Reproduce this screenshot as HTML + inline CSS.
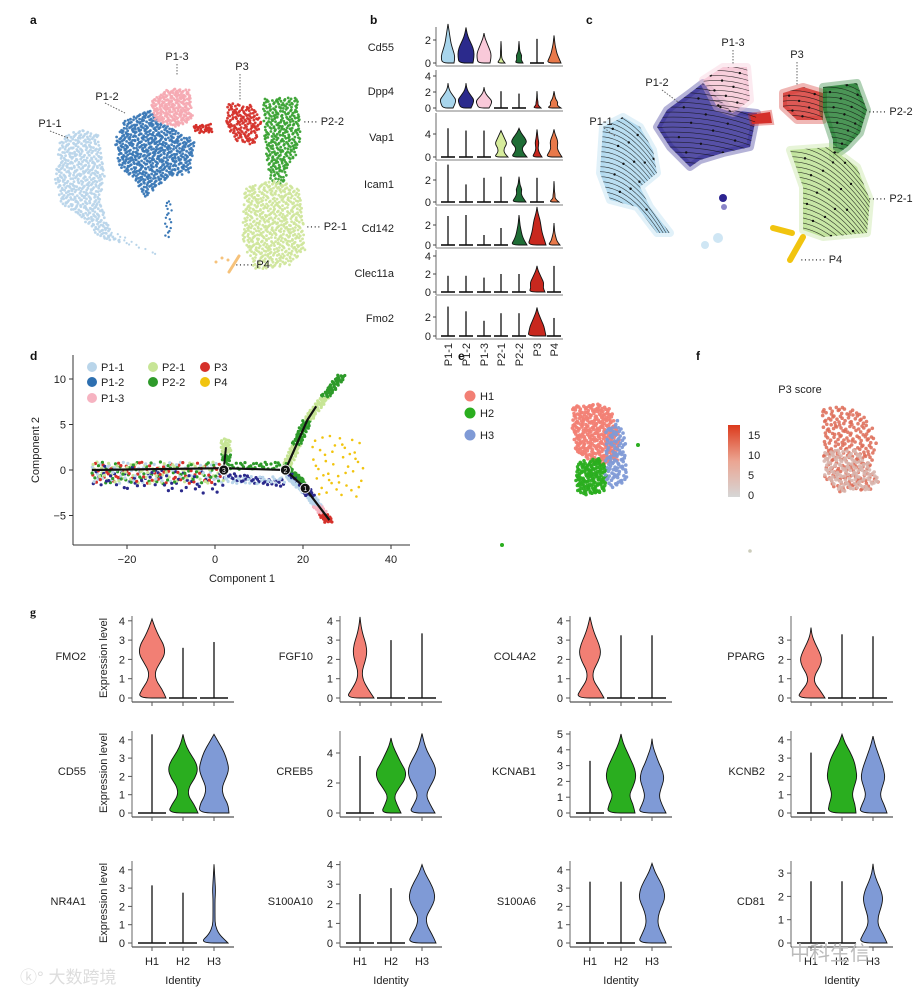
<!DOCTYPE html>
<html><head><meta charset="utf-8"><style>
body{margin:0;background:#fff;}
svg{display:block;font-family:"Liberation Sans",Arial,sans-serif;}
</style></head><body>
<svg id="fig" width="920" height="995" viewBox="0 0 920 995" xmlns="http://www.w3.org/2000/svg">
<g id="labels" font-weight="bold" font-size="12" fill="#111">
<text x="30" y="24">a</text>
<text x="370" y="24">b</text>
<text x="586" y="24">c</text>
<text x="30" y="360">d</text>
<text x="458" y="360">e</text>
<text x="696" y="360">f</text>
<text x="30" y="616" font-family="Liberation Serif,serif">g</text>
</g>
<g id="pa"></g>
<g id="pb"></g>
<g id="pc"></g>
<g id="pd"></g>
<g id="pe"></g>
<g id="pf"></g>
<g id="pg"></g>
<text x="20" y="983" font-size="17" fill="#ddd" font-family="Liberation Sans,Noto Sans CJK SC,sans-serif">ⓚ° 大数跨境</text>
<text x="790" y="960" font-size="20" fill="#bbb" font-family="Liberation Sans,Noto Sans CJK SC,sans-serif">中科生信</text>
</svg>
<script>
const NS="http://www.w3.org/2000/svg";
function el(p,tag,attrs,txt){const e=document.createElementNS(NS,tag);for(const k in attrs)e.setAttribute(k,attrs[k]);if(txt!==undefined)e.textContent=txt;p.appendChild(e);return e;}
function halton(i,b){let f=1,r=0;while(i>0){f/=b;r+=f*(i%b);i=Math.floor(i/b);}return r;}
function inPoly(x,y,P){let c=false;for(let i=0,j=P.length-1;i<P.length;j=i++){const a=P[i],b=P[j];if(((a[1]>y)!=(b[1]>y))&&(x<(b[0]-a[0])*(y-a[1])/(b[1]-a[1])+a[0]))c=!c;}return c;}
function fillPoly(g,P,n,r,col,op){let xs=P.map(p=>p[0]),ys=P.map(p=>p[1]);let x0=Math.min(...xs),x1=Math.max(...xs),y0=Math.min(...ys),y1=Math.max(...ys);let k=0;for(let i=1;k<n&&i<n*4;i++){const x=x0+(x1-x0)*halton(i,2),y=y0+(y1-y0)*halton(i,3);if(inPoly(x,y,P)){k++;const c=el(g,'circle',{cx:x.toFixed(1),cy:y.toFixed(1),r:r,fill:col,'fill-opacity':op});

}}}

/* ---------- Panel a ---------- */
const aClusters=["P1-1","P1-2","P1-3","P3","P2-2","P2-1"];
const aColors=["#b9d5ea","#3a78b6","#f6a9b2","#d5302a","#3aa233","#d0e69c"];
const aPolys=[
[[60,140],[80,128],[98,135],[105,175],[100,200],[110,228],[122,245],[95,235],[80,215],[62,205],[55,180]],
[[125,120],[150,110],[170,128],[195,140],[190,172],[165,180],[145,198],[135,180],[118,165],[115,140]],
[[150,100],[170,88],[190,90],[193,120],[175,128],[155,120]],
[[228,103],[250,105],[262,118],[255,145],[238,142],[225,125]],
[[263,99],[298,97],[301,145],[291,165],[282,188],[270,180],[265,150]],
[[245,186],[280,180],[300,190],[306,250],[290,265],[255,270],[242,240]]];
const aCounts=[520,650,260,160,330,580];
(function(){const g=document.getElementById('pa');
aPolys.forEach((P,i)=>fillPoly(g,P,aCounts[i],1.4,aColors[i],0.95));
fillPoly(g,[[192,125],[212,124],[214,132],[194,133]],30,1.4,"#d5302a",1);
fillPoly(g,[[165,200],[172,200],[172,240],[165,240]],18,1.2,"#3a78b6",1);
fillPoly(g,[[110,230],[160,255],[158,258],[108,236]],20,1.1,"#b9d5ea",1);
el(g,'line',{x1:239,y1:256,x2:229,y2:272,stroke:"#f6c27a","stroke-width":3,"stroke-linecap":"round"});
[[216,262],[222,258],[228,260]].forEach(p=>el(g,'circle',{cx:p[0],cy:p[1],r:1.5,fill:"#f6c27a"}));
const L=[["P1-3",177,60],["P3",242,70],["P1-2",107,100],["P1-1",50,127]];
L.forEach(l=>el(g,'text',{x:l[1],y:l[2],"font-size":11,"text-anchor":"middle",fill:"#222"},l[0]));
const dl=[[177,64,177,76],[240,74,240,100],[105,103,125,113],[50,131,68,138]];
dl.forEach(d=>el(g,'line',{x1:d[0],y1:d[1],x2:d[2],y2:d[3],stroke:"#666","stroke-dasharray":"1.5,1.5"}));
el(g,'text',{x:303,y:125,"font-size":11,fill:"#222"},"···· P2-2");
el(g,'text',{x:306,y:230,"font-size":11,fill:"#222"},"···· P2-1");
el(g,'text',{x:235,y:268,"font-size":11,fill:"#222"},"····· P4");
})();

/* ---------- Panel b ---------- */
const bGenes=["Cd55","Dpp4","Vap1","Icam1","Cd142","Clec11a","Fmo2"];
const bGroups=["P1-1","P1-2","P1-3","P2-1","P2-2","P3","P4"];
const bColors=["#a8d5ec","#2b2a8c","#f9c9d9","#d6ec9c","#1f6d36","#c8281e","#e8794a"];
const bY0=[63,108,157,202,245,292,336];
const bScale=[11.5,8,5.75,11,10,9,9.5];
const bTop=[27,70,113,162,207,250,296];
const bTicks=[[0,2],[0,2,4],[0,4],[0,2],[0,2],[0,2,4],[0,2]];
const bMax=[[3.4,3.1,2.6,1.9,1.9,2.1,2.4],[3.1,3.1,2.6,2.1,1.8,2.1,2.1],[5.0,4.6,4.6,4.6,5.0,4.8,4.8],[3.4,1.6,2.2,2.3,2.3,2.2,1.9],[2.9,3.0,1.0,1.7,3.0,3.8,2.2],[1.8,1.8,1.6,2.0,2.0,2.9,2.9],[3.1,2.6,1.6,2.4,2.4,3.0,1.9]];
const bProf=[
[[6,7,5,3,2,1,0],[7,8,8,6,3,1,0],[6,7,7,5,3,1,0],[4,1,0.5,0.5,0.3,0.2,0],[4,2,3,1,0.5,0.3,0],null,[7,5,3,2,1,0.5,0]],
[[5,7,8,5,2,0.5,0],[5,7,8,5,2,0.5,0],[5,7,8,5,2,0.5,0],null,null,[4,1,1,0.5,0.3,0.2,0],[7,3,4,2,1,0.5,0]],
[null,null,null,[7,3,3,6,4,2,0],[8,4,3,8,6,2,0],[5,2,1,2,1,0.5,0],[8,5,3,4,3,1,0]],
[null,null,null,null,[7,4,2,3,1,0.5,0],null,[5,1,1,0.5,0.3,0.2,0]],
[null,null,null,null,[8,5,3,2,1,0.5,0],[9,7,5,4,3,1,0],[6,3,2,1,0.5,0.3,0]],
[null,null,null,null,null,[8,6,7,5,3,1,0],null],
[null,null,null,null,null,[9,8,7,5,3,1,0],null]];
const bX0=436,bX1=563,bXc=[448,466,484,501,519,537,554];
function violin(g,cx,y0,sc,maxv,prof,col,spikeW){
 if(!prof){el(g,'line',{x1:cx-spikeW,y1:y0,x2:cx+spikeW,y2:y0,stroke:"#111","stroke-width":1.6});
  const l=el(g,'line',{x1:cx,y1:y0,x2:cx,y2:y0-maxv*sc,stroke:"#111","stroke-width":1.3});
  
  return;}
 const n=prof.length;let R=[],Lf=[];
 for(let i=0;i<n;i++){const y=y0-maxv*sc*i/(n-1);R.push([cx+prof[i],y]);Lf.push([cx-prof[i],y]);}
 const pts=R.concat(Lf.reverse());
 let d="M"+pts[0][0]+","+y0;
 for(let i=0;i<pts.length;i++){const p=pts[i];const q=pts[(i+1)%pts.length];const mx=(p[0]+q[0])/2,my=(p[1]+q[1])/2;d+=" Q"+p[0].toFixed(1)+","+p[1].toFixed(1)+" "+mx.toFixed(1)+","+my.toFixed(1);}
 d+="Z";
 const v=el(g,'path',{d:d,fill:col,stroke:"#111","stroke-width":0.9});
 
 }
(function(){const g=document.getElementById('pb');
bGenes.forEach((gn,r)=>{const y0=bY0[r],sc=bScale[r];
 el(g,'text',{x:394,y:y0-(y0-bTop[r])/2+6,"font-size":11,"text-anchor":"end",fill:"#222"},gn);
 el(g,'line',{x1:bX0,y1:bTop[r],x2:bX0,y2:y0+3,stroke:"#444","stroke-width":0.8});
 el(g,'line',{x1:bX0,y1:y0+3,x2:bX1,y2:y0+3,stroke:"#999","stroke-width":1.2});
 bTicks[r].forEach(t=>{const y=y0-t*sc;el(g,'line',{x1:bX0-3,y1:y,x2:bX0,y2:y,stroke:"#444"});el(g,'text',{x:bX0-5,y:y+4,"font-size":11,"text-anchor":"end",fill:"#222"},t);});
 bGroups.forEach((grp,c)=>violin(g,bXc[c],y0,sc,bMax[r][c],bProf[r][c],bColors[c],7));});
bGroups.forEach((grp,c)=>{el(g,'text',{x:0,y:0,"font-size":11,fill:"#222","text-anchor":"end",transform:`translate(${bXc[c]+4},${343}) rotate(-90)`},grp);});
})();

/* ---------- Panel c ---------- */
const cColors=["#a9d6ee","#2c2490","#f6c4d3","#d5302a","#1e7a2c","#b9e08f"];
const cPolys=[
[[603,127],[623,117],[640,127],[653,150],[657,173],[640,187],[650,207],[670,233],[657,233],[637,207],[610,200],[600,173]],
[[667,110],[690,93],[703,83],[730,110],[757,113],[750,147],[723,153],[700,160],[690,167],[670,147],[657,127]],
[[703,80],[723,67],[747,67],[750,100],[733,113],[717,107]],
[[783,93],[803,87],[823,93],[823,120],[797,120],[783,107]],
[[823,87],[857,83],[867,110],[860,133],[847,147],[833,157],[833,140],[823,110]],
[[790,150],[830,147],[857,167],[870,200],[867,233],[823,237],[803,230],[803,187]]];
const cSlope=[0.9,0.15,0.1,0.15,0.3,0.7];
(function(){const g=document.getElementById('pc');
const defs=el(g,'defs',{});
cPolys.forEach((P,i)=>{const cp=el(defs,'clipPath',{id:"cp"+i});el(cp,'polygon',{points:P.map(p=>p.join(',')).join(' ')});});
cPolys.forEach((P,i)=>{el(g,'polygon',{points:P.map(p=>p.join(',')).join(' '),fill:cColors[i],stroke:cColors[i],"stroke-width":8,"stroke-linejoin":"round","fill-opacity":0.8,"stroke-opacity":0.35});});
el(g,'polygon',{points:"750,115 770,112 772,123 752,124",fill:"#d5302a",stroke:"#d5302a","stroke-width":4,"stroke-opacity":0.4});
el(g,'circle',{cx:723,cy:198,r:4,fill:"#2c2490"});el(g,'circle',{cx:724,cy:207,r:3,fill:"#8a85c8"});
el(g,'circle',{cx:718,cy:238,r:5,fill:"#cfe6f4"});el(g,'circle',{cx:705,cy:245,r:4,fill:"#cfe6f4"});
el(g,'line',{x1:790,y1:260,x2:803,y2:237,stroke:"#f1c40f","stroke-width":6,"stroke-linecap":"round"});
el(g,'line',{x1:773,y1:228,x2:792,y2:233,stroke:"#f1c40f","stroke-width":6,"stroke-linecap":"round"});
cPolys.forEach((P,i)=>{const xs=P.map(p=>p[0]),ys=P.map(p=>p[1]);const x0=Math.min(...xs)-5,x1=Math.max(...xs)+5,y0=Math.min(...ys)-30,y1=Math.max(...ys)+5;
 const gg=el(g,'g',{"clip-path":`url(#cp${i})`});const s=cSlope[i];let k=0;
 for(let y=y0;y<y1;y+=5){k++;const w=x1-x0;el(gg,'path',{d:`M${x0},${y} q${w/2},${-5} ${w},${s*w}`,fill:"none",stroke:"#111","stroke-width":0.6,"stroke-opacity":0.8});
  const f=0.2+0.6*halton(k,3);el(gg,'circle',{cx:x0+w*f,cy:y+s*w*f*f-5*2*f*(1-f),r:1.2,fill:"#111"});}});
const L=[["P1-3",733,46],["P3",797,58],["P1-2",657,86],["P1-1",601,125]];
L.forEach(l=>el(g,'text',{x:l[1],y:l[2],"font-size":11,"text-anchor":"middle",fill:"#222"},l[0]));
[[733,50,733,64],[797,62,797,85],[662,90,678,102],[604,128,615,136]].forEach(d=>el(g,'line',{x1:d[0],y1:d[1],x2:d[2],y2:d[3],stroke:"#666","stroke-dasharray":"1.5,1.5"}));
el(g,'text',{x:868,y:115,"font-size":11,fill:"#222"},"····· P2-2");
el(g,'text',{x:868,y:202,"font-size":11,fill:"#222"},"····· P2-1");
el(g,'text',{x:800,y:263,"font-size":11,fill:"#222"},"······· P4");
})();

/* ---------- Panel d ---------- */
const dXTicks=[-20,0,20,40];
const dYTicks=[-5,0,5,10];
const dLegend=["P1-1","P1-2","P1-3","P2-1","P2-2","P3","P4"];
const dLegColors=["#b9d5ea","#2d6fb0","#f6b3c1","#c7e596","#2e9a2a","#d5302a","#f1c40f"];
const dBranchStart=[[-28,0],[2,0],[16,0],[21,5.5],[16,0],[20.5,-2]];
const dBranchEnd=[[2,0],[16,0],[21,5.5],[29,10.5],[20.5,-2],[26,-5.8]];
const dNodesX=[20.5,16,2];
const dNodesY=[-2,0,0];
const dx=v=>215+v*4.4, dy=v=>470-v*9.1;
(function(){const g=document.getElementById('pd');
el(g,'line',{x1:73,y1:355,x2:73,y2:545,stroke:"#333"});el(g,'line',{x1:73,y1:545,x2:410,y2:545,stroke:"#333"});
dXTicks.forEach(t=>{el(g,'line',{x1:dx(t),y1:545,x2:dx(t),y2:549,stroke:"#333"});el(g,'text',{x:dx(t),y:563,"font-size":11,"text-anchor":"middle",fill:"#222"},t===-20?"−20":t);});
dYTicks.forEach(t=>{el(g,'line',{x1:69,y1:dy(t),x2:73,y2:dy(t),stroke:"#333"});el(g,'text',{x:66,y:dy(t)+4,"font-size":11,"text-anchor":"end",fill:"#222"},t===-5?"−5":t);});
el(g,'text',{x:242,y:582,"font-size":11,"text-anchor":"middle",fill:"#222"},"Component 1");
el(g,'text',{x:0,y:0,"font-size":11,"text-anchor":"middle",fill:"#222",transform:"translate(39,450) rotate(-90)"},"Component 2");
const bc=[["#c7e596","#2e9a2a","#2b2a8c","#b9d5ea","#d5302a"],["#b9d5ea","#2b2a8c","#2e9a2a"],["#c7e596","#2e9a2a"],["#c7e596","#2e9a2a"],["#b9d5ea","#2b2a8c","#2e9a2a"],["#2b2a8c","#f6b3c1","#b9d5ea","#d5302a"]];
dBranchStart.forEach((s,i)=>{const e=dBranchEnd[i];const n=i==0?320:110;
 for(let k=1;k<=n;k++){const t=halton(k,2),o=(halton(k,3)-0.5);const x=s[0]+(e[0]-s[0])*t,y=s[1]+(e[1]-s[1])*t;
  let col=bc[i][k%bc[i].length];let off=o*1.6;
  if(i==0||i==1){off=o*2.4-0.3;if(col=="#2b2a8c")off-=0.9*t+0.3;}
  const horiz=(i==3||i==2||i==5);
  const c=el(g,'circle',{cx:(dx(x)+(horiz?off*6:0)).toFixed(1),cy:(dy(y+(horiz?0:off))).toFixed(1),r:1.6,fill:col});
  
  }});
for(let k=1;k<40;k++){el(g,'circle',{cx:(dx(2.5)+(halton(k,2)-0.5)*10).toFixed(1),cy:(dy(1+halton(k,3)*2.5)).toFixed(1),r:1.6,fill:k%3?"#c7e596":"#2e9a2a"});}
for(let k=1;k<45;k++){el(g,'circle',{cx:(dx(22+halton(k,2)*12)).toFixed(1),cy:(dy(-3+halton(k,3)*7)).toFixed(1),r:1.3,fill:"#f1c40f"});}
el(g,'polyline',{points:[[-28,0],[2,0.2],[16,0],[21,5.5],[23,7]].map(p=>dx(p[0])+","+dy(p[1])).join(" "),fill:"none",stroke:"#111","stroke-width":2.2});
el(g,'polyline',{points:[[2,0.2],[2.5,2.5]].map(p=>dx(p[0])+","+dy(p[1])).join(" "),fill:"none",stroke:"#111","stroke-width":2});
el(g,'polyline',{points:[[16,0],[20.5,-2],[26,-5.5]].map(p=>dx(p[0])+","+dy(p[1])).join(" "),fill:"none",stroke:"#111","stroke-width":2.2});
dNodesX.forEach((x,i)=>{el(g,'circle',{cx:dx(x),cy:dy(dNodesY[i]),r:5,fill:"#111",stroke:"#fff","stroke-width":0.8});el(g,'text',{x:dx(x),y:dy(dNodesY[i])+3,"font-size":7,"text-anchor":"middle",fill:"#fff"},i+1);});
const lp=[[92,367],[92,382],[92,398],[153,367],[153,382],[205,367],[205,382]];
dLegend.forEach((n,i)=>{el(g,'circle',{cx:lp[i][0],cy:lp[i][1],r:5,fill:dLegColors[i]});el(g,'text',{x:lp[i][0]+9,y:lp[i][1]+4,"font-size":11,fill:"#222"},n);});
})();

/* ---------- Panel e ---------- */
const eLabels=["H1","H2","H3"];
const eColors=["#f27f74","#2aae1f","#7f9ad6"];
const ePolys=[
[[573,406],[600,404],[612,410],[620,440],[618,460],[600,465],[585,460],[575,450],[572,425]],
[[577,462],[600,458],[607,470],[605,492],[590,496],[578,492],[575,478]],
[[606,430],[618,418],[626,440],[627,480],[615,490],[605,480]]];
(function(){const g=document.getElementById('pe');
eLabels.forEach((l,i)=>{const y=[396,413,435][i];el(g,'circle',{cx:470,cy:y,r:5.5,fill:eColors[i]});el(g,'text',{x:480,y:y+4,"font-size":11,fill:"#222"},l);});
ePolys.forEach((P,i)=>fillPoly(g,P,[320,160,110][i],1.8,eColors[i],0.95));
el(g,'circle',{cx:502,cy:545,r:2,fill:"#2aae1f"});el(g,'circle',{cx:638,cy:445,r:2,fill:"#2aae1f"});
})();

/* ---------- Panel f ---------- */
const fTicks=[0,5,10,15];
(function(){const g=document.getElementById('pf');
const defs=el(g,'defs',{});const lg=el(defs,'linearGradient',{id:"fg",x1:0,y1:1,x2:0,y2:0});
el(lg,'stop',{offset:0,"stop-color":"#d6d6d6"});el(lg,'stop',{offset:0.5,"stop-color":"#eba592"});el(lg,'stop',{offset:1,"stop-color":"#dc3a1c"});
el(g,'rect',{x:728,y:425,width:12,height:72,fill:"url(#fg)"});
const fy=v=>495-v*4;
fTicks.forEach(t=>el(g,'text',{x:748,y:fy(t)+4,"font-size":11,fill:"#222"},t));
el(g,'text',{x:800,y:393,"font-size":11,"text-anchor":"middle",fill:"#222"},"P3 score");
fillPoly(g,[[822,410],[840,404],[860,412],[874,430],[878,450],[868,470],[880,480],[870,490],[840,492],[825,480],[823,440]],250,1.8,"#dd6a55",0.85);
fillPoly(g,[[823,450],[860,450],[880,480],[870,490],[840,492],[825,480]],140,1.8,"#d8b5ad",0.9);
el(g,'circle',{cx:750,cy:551,r:1.8,fill:"#ccb"});
})();

/* ---------- Panel g ---------- */
const gGenes=["FMO2","FGF10","COL4A2","PPARG","CD55","CREB5","KCNAB1","KCNB2","NR4A1","S100A10","S100A6","CD81"];
const gGroups=["H1","H2","H3"];
const gColors=["#f27f74","#2aae1f","#7f9ad6"];
const gMax=[[4.1,2.6,2.9],[4.2,3.0,3.35],[4.2,3.25,3.25],[3.65,3.3,3.2],[4.3,4.3,4.3],[3.8,5.0,5.3],[3.3,5.0,4.7],[3.3,4.3,4.2],[3.15,2.75,4.3],[2.5,2.8,4.0],[3.35,3.35,4.35],[2.65,2.65,3.4]];
const gProf=[
[[14,10,4,3,8,13,12,7,3,0],null,null],
[[14,8,3,2,5,7,6,3,1,0],null,null],
[[14,9,3,3,8,11,9,5,2,0],null,null],
[[14,9,3,4,9,11,8,4,1,0],null,null],
[null,[15,11,5,6,12,15,12,6,2,0],[15,14,9,8,12,15,13,10,5,0]],
[null,[10,6,3,8,14,15,10,6,2,0],[13,8,4,8,13,14,10,5,2,0]],
[null,[14,12,8,12,15,14,10,6,2,0],[14,10,7,9,12,11,7,4,1,0]],
[null,[14,13,10,12,15,14,12,8,3,0],[14,11,7,9,12,11,8,5,2,0]],
[null,null,[14,5,1.2,1,1,1,1.5,1,0.5,0]],
[null,null,[14,10,5,4,9,13,12,8,3,0]],
[null,null,[14,10,6,6,9,13,12,8,3,0]],
[null,null,[14,10,5,5,8,10,8,4,1,0]]];
const gTicks=[[0,1,2,3,4],[0,1,2,3,4],[0,1,2,3,4],[0,1,2,3],[0,1,2,3,4],[0,2,4],[0,1,2,3,4,5],[0,1,2,3,4],[0,1,2,3,4],[0,1,2,3,4],[0,1,2,3,4],[0,1,2,3]];
const gScale=[19.3,19.3,19.3,19.3,18.3,15,15.8,18.3,18.3,19.6,18.3,23.3];
const gAxisX=[132,340,570,791];
const gRowY0=[698,813,943];
const gLabelX=[86,313,536,765];
(function(){const g=document.getElementById('pg');
gGenes.forEach((gn,i)=>{const r=Math.floor(i/4),c=i%4;const ax=gAxisX[c],y0=gRowY0[r],sc=gScale[i];
 const xs=[ax+20,ax+51,ax+82];
 el(g,'text',{x:gLabelX[c],y:y0-38,"font-size":11,"text-anchor":"end",fill:"#222"},gn);
 el(g,'line',{x1:ax,y1:y0-82,x2:ax,y2:y0+4,stroke:"#555","stroke-width":0.9});
 el(g,'line',{x1:ax,y1:y0+4,x2:ax+102,y2:y0+4,stroke:"#555","stroke-width":1.2});
 gTicks[i].forEach(t=>{const y=y0-t*sc;el(g,'line',{x1:ax-4,y1:y,x2:ax,y2:y,stroke:"#555"});el(g,'text',{x:ax-7,y:y+4,"font-size":11,"text-anchor":"end",fill:"#222"},t);});
 xs.forEach((x,k)=>{el(g,'line',{x1:x,y1:y0+4,x2:x,y2:y0+8,stroke:"#555"});violin(g,x,y0,sc,gMax[i][k],gProf[i][k],gColors[k],14);});
 if(c==0)el(g,'text',{x:0,y:0,"font-size":11,"text-anchor":"middle",fill:"#222",transform:`translate(107,${y0-40}) rotate(-90)`},"Expression level");
 if(r==2){xs.forEach((x,k)=>el(g,'text',{x:x,y:965,"font-size":11,"text-anchor":"middle",fill:"#222"},gGroups[k]));
  el(g,'text',{x:xs[1],y:984,"font-size":11,"text-anchor":"middle",fill:"#222"},"Identity");}
});})();
</script>
</body></html>
